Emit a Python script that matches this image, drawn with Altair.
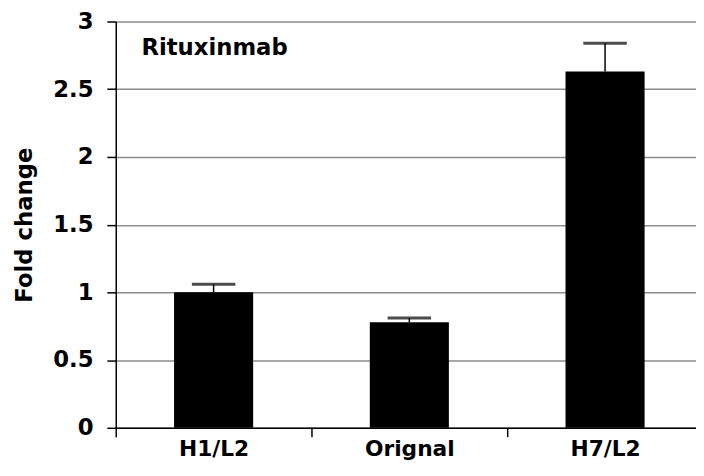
import altair as alt
import pandas as pd

categories = ["H1/L2", "Orignal", "H7/L2"]
fold_change = [1.00, 0.78, 2.63]
error_up = [0.06, 0.03, 0.21]
y_ticks = [0, 0.5, 1, 1.5, 2, 2.5, 3]
panel_label = ["Rituxinmab"]

df = pd.DataFrame({"cat": categories, "val": fold_change, "err": error_up})
df["top"] = df["val"] + df["err"]

FONT = "DejaVu Sans"

x_enc = alt.X(
    "cat:N",
    sort=categories,
    scale=alt.Scale(range=[0, 594], paddingInner=0, paddingOuter=0),
    axis=alt.Axis(title=None, labelAngle=0, tickBand="extent", grid=False,
                  labelPadding=2, labelFontSize=22),
)
y_enc = alt.Y(
    "val:Q",
    scale=alt.Scale(domain=[0, 3], nice=False),
    axis=alt.Axis(values=y_ticks, format="~g", title="Fold change", grid=True,
                  labelPadding=14, titlePadding=16, labelFontSize=23, titleFontSize=23),
)

base = alt.Chart(df)

bars = base.mark_bar(size=80, color="black").encode(x=x_enc, y=y_enc)
stems = base.mark_rule(color="black", strokeWidth=1.5).encode(
    x=alt.X("cat:N", sort=categories), y="val:Q", y2="top:Q")
caps = base.mark_tick(color="black", size=44, thickness=3).encode(
    x=alt.X("cat:N", sort=categories), y="top:Q")

label = alt.Chart(pd.DataFrame({"label": panel_label})).mark_text(
    align="left", baseline="alphabetic", fontSize=23, fontWeight="bold",
    font=FONT, color="black").encode(
    x=alt.value(26), y=alt.value(34), text="label:N")

chart = (
    alt.layer(bars, stems, caps, label)
    .properties(width=586, height=411, autosize=alt.AutoSizeParams(type="none"),
                padding={"left": 109, "top": 11, "right": 1, "bottom": 38})
    .configure_view(stroke=None)
    .configure_axis(
        labelFont=FONT, labelFontWeight="bold", labelColor="black",
        titleFont=FONT, titleFontWeight="bold", titleColor="black",
        domainColor="black", domainWidth=1.5,
        tickColor="black", tickWidth=1.5, tickSize=9,
        gridColor="#8c8c8c", gridWidth=1.5,
    )
)

chart.save("out.html", embed_options={"renderer": "svg", "actions": False})
